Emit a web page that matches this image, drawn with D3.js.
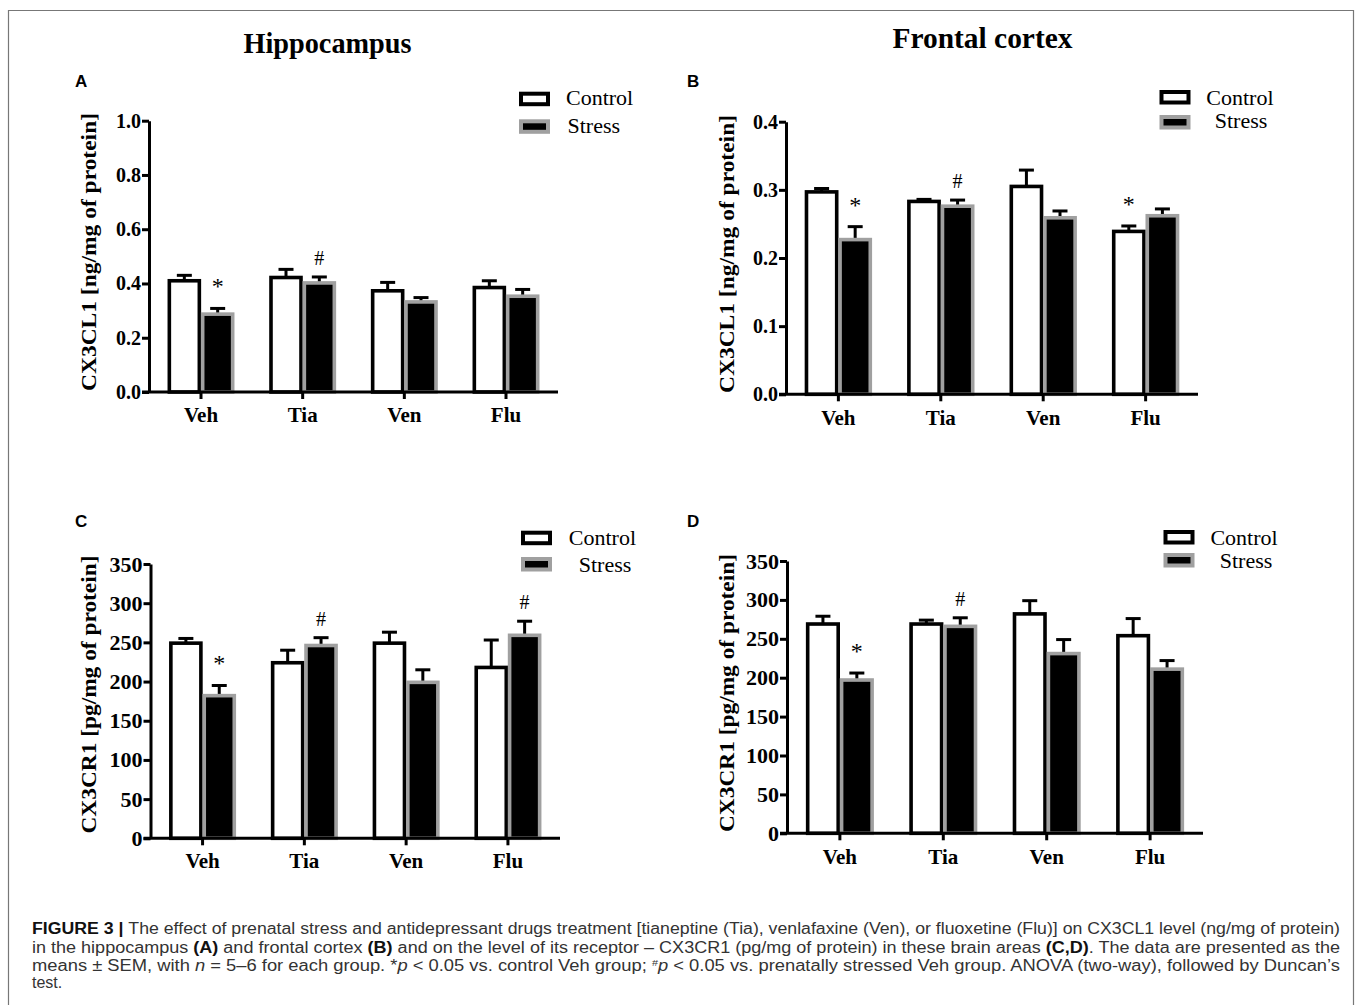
<!DOCTYPE html>
<html>
<head>
<meta charset="utf-8">
<script src="https://cdn.jsdelivr.net/npm/d3@7"></script>
<style>
  html, body { margin: 0; padding: 0; background: #fff; }
  svg { display: block; }
</style>
</head>
<body>
<svg id="fig" width="1360" height="1005"></svg>
<script>
// ---------------- DATA ----------------
const categories = ["Veh", "Tia", "Ven", "Flu"];
const seriesNames = ["Control", "Stress"];

// A: Hippocampus CX3CL1 [ng/mg of protein]
const hipCX3CL1Control    = [0.410, 0.422, 0.373, 0.385];
const hipCX3CL1ControlSem = [0.020, 0.030, 0.031, 0.025];
const hipCX3CL1Stress     = [0.287, 0.402, 0.332, 0.353];
const hipCX3CL1StressSem  = [0.021, 0.022, 0.016, 0.025];

// B: Frontal cortex CX3CL1 [ng/mg of protein]
const fcxCX3CL1Control    = [0.297, 0.283, 0.305, 0.239];
const fcxCX3CL1ControlSem = [0.005, 0.003, 0.024, 0.008];
const fcxCX3CL1Stress     = [0.227, 0.276, 0.259, 0.262];
const fcxCX3CL1StressSem  = [0.019, 0.009, 0.010, 0.010];

// C: Hippocampus CX3CR1 [pg/mg of protein]
const hipCX3CR1Control    = [249, 224, 249, 218];
const hipCX3CR1ControlSem = [6, 16, 14, 35];
const hipCX3CR1Stress     = [182, 246, 199, 259];
const hipCX3CR1StressSem  = [13, 10, 16, 18];

// D: Frontal cortex CX3CR1 [pg/mg of protein]
const fcxCX3CR1Control    = [269, 269, 282, 254];
const fcxCX3CR1ControlSem = [10, 5, 17, 22];
const fcxCX3CR1Stress     = [197, 266, 231, 211];
const fcxCX3CR1StressSem  = [9, 11, 18, 11];

// Tick labels
const ticksCL1Hip = ["0.0", "0.2", "0.4", "0.6", "0.8", "1.0"];
const ticksCL1Fcx = ["0.0", "0.1", "0.2", "0.3", "0.4"];
const ticksCR1    = ["0", "50", "100", "150", "200", "250", "300", "350"];

// Significance marks: [category, series, symbol]
const marksA = [["Veh", "Stress", "*"], ["Tia", "Stress", "#"]];
const marksB = [["Veh", "Stress", "*"], ["Tia", "Stress", "#"], ["Flu", "Control", "*"]];
const marksC = [["Veh", "Stress", "*"], ["Tia", "Stress", "#"], ["Flu", "Stress", "#"]];
const marksD = [["Veh", "Stress", "*"], ["Tia", "Stress", "#"]];

const regionTitles = ["Hippocampus", "Frontal cortex"];
const yTitleCL1 = "CX3CL1 [ng/mg of protein]";
const yTitleCR1 = "CX3CR1 [pg/mg of protein]";

// ---------------- LAYOUT ----------------
const SERIF = "'Liberation Serif', 'Times New Roman', serif";
const SANS = "'Liberation Sans', Arial, Helvetica, sans-serif";
const GREY = "#a0a0a0";

const svg = d3.select("#fig");

// frame
svg.append("path")
  .attr("d", "M8.5,1005 L8.5,10.5 L1353.5,10.5 L1353.5,1005")
  .attr("fill", "none").attr("stroke", "#777").attr("stroke-width", 1.2);

// region titles
svg.append("text").text(regionTitles[0])
  .attr("x", 327.5).attr("y", 53).attr("text-anchor", "middle")
  .attr("font-family", SERIF).attr("font-weight", "bold").attr("font-size", 29)
  .attr("textLength", 168).attr("lengthAdjust", "spacingAndGlyphs");
svg.append("text").text(regionTitles[1])
  .attr("x", 982.5).attr("y", 48).attr("text-anchor", "middle")
  .attr("font-family", SERIF).attr("font-weight", "bold").attr("font-size", 29)
  .attr("textLength", 180).attr("lengthAdjust", "spacingAndGlyphs");

const panels = [
  { letter: "A", lx: 75, ly: 87,
    x0: 149, x1: 558, yTop: 120.7, yBot: 392, max: 1.0,
    ticks: ticksCL1Hip, tickFont: 20, title: yTitleCL1, tx: 96, ty: 252,
    control: hipCX3CL1Control, controlSem: hipCX3CL1ControlSem,
    stress: hipCX3CL1Stress, stressSem: hipCX3CL1StressSem, marks: marksA,
    labDy: 29.5,
    leg: { bx: 521, by1: 93.7, by2: 121.3, t1x: 566, t1y: 105, t2x: 567.5, t2y: 133.3, t2anchor: "start" } },
  { letter: "B", lx: 687, ly: 87,
    x0: 786, x1: 1198, yTop: 121.7, yBot: 394.3, max: 0.4,
    ticks: ticksCL1Fcx, tickFont: 20, title: yTitleCL1, tx: 734, ty: 254,
    control: fcxCX3CL1Control, controlSem: fcxCX3CL1ControlSem,
    stress: fcxCX3CL1Stress, stressSem: fcxCX3CL1StressSem, marks: marksB,
    labDy: 31,
    leg: { bx: 1161.5, by1: 92, by2: 117, t1x: 1206.3, t1y: 105, t2x: 1241, t2y: 128.3, t2anchor: "middle" } },
  { letter: "C", lx: 75, ly: 527,
    x0: 150.5, x1: 560, yTop: 564, yBot: 838.3, max: 350,
    ticks: ticksCR1, tickFont: 22, title: yTitleCR1, tx: 96, ty: 694.5,
    control: hipCX3CR1Control, controlSem: hipCX3CR1ControlSem,
    stress: hipCX3CR1Stress, stressSem: hipCX3CR1StressSem, marks: marksC,
    labDy: 30,
    leg: { bx: 523, by1: 532.7, by2: 559, t1x: 568.8, t1y: 545, t2x: 605, t2y: 571.7, t2anchor: "middle" } },
  { letter: "D", lx: 687, ly: 527,
    x0: 787, x1: 1203, yTop: 561, yBot: 833.3, max: 350,
    ticks: ticksCR1, tickFont: 22, title: yTitleCR1, tx: 734, ty: 693,
    control: fcxCX3CR1Control, controlSem: fcxCX3CR1ControlSem,
    stress: fcxCX3CR1Stress, stressSem: fcxCX3CR1StressSem, marks: marksD,
    labDy: 30.5,
    leg: { bx: 1165.5, by1: 532, by2: 555, t1x: 1210.4, t1y: 545, t2x: 1246, t2y: 568.3, t2anchor: "middle" } }
];

function drawPanel(p) {
  const g = svg.append("g");

  g.append("text").text(p.letter)
    .attr("x", p.lx).attr("y", p.ly)
    .attr("font-family", SANS).attr("font-weight", "bold").attr("font-size", 17);

  const x = d3.scaleBand().domain(categories).range([p.x0, p.x1])
    .paddingInner(0.377).paddingOuter(0.2);
  const xs = d3.scaleBand().domain(seriesNames).range([0, x.bandwidth()])
    .paddingInner(0.1);
  const y = d3.scaleLinear().domain([0, p.max]).range([p.yBot, p.yTop]);

  const rows = [];
  categories.forEach((c, i) => {
    rows.push({ cat: c, s: "Control", v: p.control[i], e: p.controlSem[i] });
    rows.push({ cat: c, s: "Stress", v: p.stress[i], e: p.stressSem[i] });
  });
  const cx = d => x(d.cat) + xs(d.s) + xs.bandwidth() / 2;

  // error bars (one-sided, upward)
  g.selectAll("line.err").data(rows).join("line")
    .attr("x1", cx).attr("x2", cx)
    .attr("y1", d => y(d.v)).attr("y2", d => y(d.v + d.e))
    .attr("stroke", "#000").attr("stroke-width", 3);
  g.selectAll("line.cap").data(rows).join("line")
    .attr("x1", d => cx(d) - 7.5).attr("x2", d => cx(d) + 7.5)
    .attr("y1", d => y(d.v + d.e)).attr("y2", d => y(d.v + d.e))
    .attr("stroke", "#000").attr("stroke-width", 3);

  // bars
  g.selectAll("rect.bar").data(rows).join("rect")
    .attr("x", d => x(d.cat) + xs(d.s))
    .attr("width", xs.bandwidth())
    .attr("y", d => y(d.v))
    .attr("height", d => y(0) - y(d.v))
    .attr("fill", d => d.s === "Control" ? "#fff" : "#000")
    .attr("stroke", d => d.s === "Control" ? "#000" : GREY)
    .attr("stroke-width", 3.6);

  // y axis
  const yAxis = d3.axisLeft(y)
    .tickValues(p.ticks.map(Number))
    .tickFormat((d, i) => p.ticks[i])
    .tickSize(7).tickSizeOuter(0).tickPadding(1);
  const ya = g.append("g").attr("transform", `translate(${p.x0},0)`).call(yAxis);
  ya.select(".domain").attr("stroke-width", 3).attr("stroke", "#000");
  ya.selectAll(".tick line").attr("stroke-width", 3).attr("stroke", "#000");
  ya.selectAll(".tick text")
    .attr("font-family", SERIF).attr("font-weight", "bold").attr("font-size", p.tickFont)
    .attr("fill", "#000");

  // x axis
  const xAxis = d3.axisBottom(x).tickSize(7).tickSizeOuter(0);
  const xa = g.append("g").attr("transform", `translate(0,${p.yBot})`).call(xAxis);
  xa.select(".domain").attr("d", `M${p.x0 - 7},0H${p.x1}`)
    .attr("stroke-width", 3).attr("stroke", "#000");
  xa.selectAll(".tick line").attr("stroke-width", 3).attr("stroke", "#000");
  xa.selectAll(".tick text")
    .attr("y", p.labDy).attr("dy", 0)
    .attr("font-family", SERIF).attr("font-weight", "bold").attr("font-size", 21)
    .attr("fill", "#000");

  // y title
  g.append("text").text(p.title)
    .attr("transform", `translate(${p.tx},${p.ty}) rotate(-90)`)
    .attr("text-anchor", "middle")
    .attr("font-family", SERIF).attr("font-weight", "bold").attr("font-size", 22)
    .attr("textLength", 278).attr("lengthAdjust", "spacingAndGlyphs");

  // significance marks
  p.marks.forEach(([c, s, sym]) => {
    const i = categories.indexOf(c);
    const v = s === "Control" ? p.control[i] + p.controlSem[i] : p.stress[i] + p.stressSem[i];
    g.append("text").text(sym)
      .attr("x", x(c) + xs(s) + xs.bandwidth() / 2)
      .attr("y", y(v) - (sym === "*" ? 14 : 12))
      .attr("text-anchor", "middle")
      .attr("font-family", SERIF).attr("font-size", sym === "*" ? 24 : 20);
  });

  // legend
  const L = p.leg;
  g.append("rect").attr("x", L.bx).attr("y", L.by1).attr("width", 27).attr("height", 10.5)
    .attr("fill", "#fff").attr("stroke", "#000").attr("stroke-width", 4);
  g.append("rect").attr("x", L.bx).attr("y", L.by2).attr("width", 27).attr("height", 10.5)
    .attr("fill", "#000").attr("stroke", GREY).attr("stroke-width", 4);
  g.append("text").text(seriesNames[0]).attr("x", L.t1x).attr("y", L.t1y)
    .attr("font-family", SERIF).attr("font-size", 22);
  g.append("text").text(seriesNames[1]).attr("x", L.t2x).attr("y", L.t2y)
    .attr("text-anchor", L.t2anchor)
    .attr("font-family", SERIF).attr("font-size", 22);
}
panels.forEach(drawPanel);

// ---------------- CAPTION ----------------
const captionLines = [
  [["FIGURE 3 | ", "b"], ["The effect of prenatal stress and antidepressant drugs treatment [tianeptine (Tia), venlafaxine (Ven), or fluoxetine (Flu)] on CX3CL1 level (ng/mg of protein)", ""]],
  [["in the hippocampus ", ""], ["(A)", "b"], [" and frontal cortex ", ""], ["(B)", "b"], [" and on the level of its receptor – CX3CR1 (pg/mg of protein) in these brain areas ", ""], ["(C,D)", "b"], [". The data are presented as the", ""]],
  [["means ± SEM, with ", ""], ["n", "i"], [" = 5–6 for each group. *", ""], ["p", "i"], [" < 0.05 vs. control Veh group; ", ""], ["#", "sup"], ["p", "i"], [" < 0.05 vs. prenatally stressed Veh group. ANOVA (two-way), followed by Duncan’s", ""]],
  [["test.", ""]]
];
const capX0 = 32, capX1 = 1340;
const capY = [934, 953, 971, 988];
captionLines.forEach((segs, li) => {
  const t = svg.append("text").attr("x", capX0).attr("y", capY[li])
    .attr("font-family", SANS).attr("font-size", 16).attr("fill", "#333");
  segs.forEach(([s, st]) => {
    const ts = t.append("tspan").text(s);
    if (st === "b") ts.attr("font-weight", "bold").attr("fill", "#111");
    if (st === "i") ts.attr("font-style", "italic");
    if (st === "sup") ts.attr("font-size", 9.5).attr("baseline-shift", "super");
  });
  if (li < 3) {
    t.attr("textLength", capX1 - capX0).attr("lengthAdjust", "spacingAndGlyphs");
  }
});
</script>
</body>
</html>
